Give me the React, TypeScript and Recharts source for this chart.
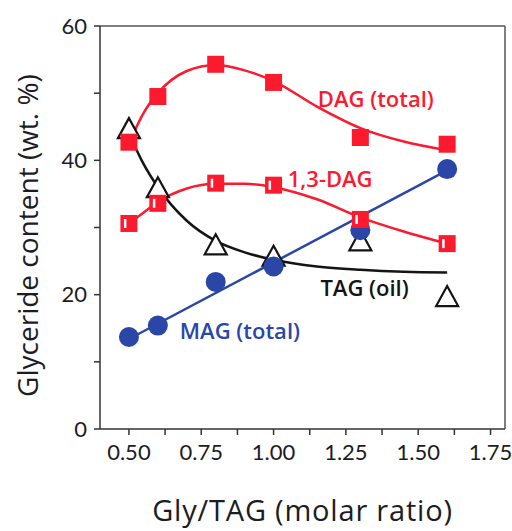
import {
  ComposedChart,
  Line,
  Scatter,
  XAxis,
  YAxis,
  ReferenceLine,
  ReferenceDot,
} from "recharts";

// measured points (Gly/TAG molar ratio)
const ratio = [0.5, 0.6, 0.8, 1.0, 1.3, 1.6];
const dagTotal = [42.7, 49.5, 54.3, 51.6, 43.4, 42.4];
const dag13 = [30.6, 33.6, 36.6, 36.3, 31.2, 27.6];
const tagOil = [44.5, 35.7, 27.2, 25.5, 27.8, 19.5];
const magTotal = [13.7, 15.4, 21.9, 24.2, 29.6, 38.7];

// fitted curves
const fitRatio = [0.5, 0.55, 0.6, 0.7, 0.8, 0.9, 1.0, 1.15, 1.3, 1.45, 1.6];
const dagTotalFit = [42.5, 47.0, 50.0, 53.3, 54.2, 53.4, 51.8, 48.0, 44.8, 42.8, 41.5];
const dag13Fit = [30.6, 32.2, 33.8, 35.8, 36.5, 36.5, 36.0, 34.2, 31.5, 29.4, 27.6];
const tagFit = [44.0, 39.5, 36.0, 31.0, 28.0, 26.3, 25.2, 24.2, 23.7, 23.4, 23.3];
const magFitRatio = [0.5, 1.6];
const magFit = [13.4, 38.5];

const xTicks = [0.5, 0.625, 0.75, 0.875, 1.0, 1.125, 1.25, 1.375, 1.5, 1.625, 1.75];
const xLabels = [0.5, 0.75, 1.0, 1.25, 1.5, 1.75];
const yTicks = [0, 10, 20, 30, 40, 50, 60];
const yLabels = [0, 20, 40, 60];

const RED = "#fb1a2e";
const BLUE = "#2a47a8";
const BLACK = "#141414";
const FONT = "Lato, 'Open Sans', sans-serif";
const TITLE_FONT = "'Open Sans', Lato, sans-serif";

const toRows = (xs: number[], ys: number[]) => xs.map((x, i) => ({ x, y: ys[i] }));

const FilledSquare = (props: any) => {
  const { cx, cy } = props;
  return <rect x={cx - 8.5} y={cy - 8.5} width={17} height={17} fill={RED} />;
};

const MarkedSquare = (props: any) => {
  const { cx, cy } = props;
  return (
    <g>
      <rect x={cx - 8.5} y={cy - 8.5} width={17} height={17} fill={RED} />
      <rect x={cx - 5} y={cy - 4.5} width={2.5} height={9} fill="#fff" />
    </g>
  );
};

const Triangle = (props: any) => {
  const { cx, cy } = props;
  return (
    <polygon
      points={`${cx},${cy - 12} ${cx - 11},${cy + 8} ${cx + 11},${cy + 8}`}
      fill="#fff"
      stroke={BLACK}
      strokeWidth={2.2}
    />
  );
};

const Dot = (props: any) => {
  const { cx, cy } = props;
  return <circle cx={cx} cy={cy} r={10} fill={BLUE} />;
};

const tickStyle = { fontSize: 22, fill: "#1c1c24", fontFamily: FONT };

const seriesLabel = (value: string, fill: string) => ({
  value,
  position: "right" as const,
  offset: 0,
  fill,
  fontSize: 22,
  fontWeight: 600,
  fontFamily: TITLE_FONT,
});

export default function App() {
  return (
    <div style={{ position: "absolute", left: 0, top: 0, background: "#fff" }}>
      <ComposedChart width={512} height={531} margin={{ top: 26, right: 7, bottom: 0, left: 0 }}>
        <XAxis
          dataKey="x"
          type="number"
          domain={[0.4, 1.8]}
          ticks={xTicks}
          allowDataOverflow
          tickFormatter={(v: number) => (xLabels.includes(v) ? v.toFixed(2) : "")}
          tick={tickStyle}
          tickSize={6}
          tickMargin={9}
          stroke="#333"
          strokeWidth={1.5}
          height={102}
          label={{
            content: (p: any) => {
              const vb = p.viewBox;
              return (
                <text
                  x={vb.x + vb.width / 2}
                  y={521}
                  textAnchor="middle"
                  fontSize={29}
                  letterSpacing={0.8}
                  fontFamily={TITLE_FONT}
                  fill="#1c1c24"
                >
                  Gly/TAG (molar ratio)
                </text>
              );
            },
          }}
        />
        <YAxis
          type="number"
          domain={[0, 60]}
          ticks={yTicks}
          allowDataOverflow
          tickFormatter={(v: number) => (yLabels.includes(v) ? String(v) : "")}
          tick={tickStyle}
          tickSize={6}
          tickMargin={7}
          stroke="#333"
          strokeWidth={1.5}
          width={100}
          label={{
            content: (p: any) => {
              const vb = p.viewBox;
              const cx = 27;
              const cy = vb.y + vb.height / 2 + 8;
              return (
                <text
                  x={cx}
                  y={cy}
                  transform={`rotate(-90 ${cx} ${cy})`}
                  textAnchor="middle"
                  dominantBaseline="central"
                  fontSize={28}
                  fontFamily={TITLE_FONT}
                  fill="#1c1c24"
                >
                  Glyceride content (wt. %)
                </text>
              );
            },
          }}
        />
        <ReferenceLine y={60} stroke="#555" strokeWidth={1.5} />
        <ReferenceLine x={1.8} stroke="#555" strokeWidth={1.5} />

        <Line data={toRows(fitRatio, tagFit)} dataKey="y" type="monotone" stroke={BLACK} strokeWidth={2.5} dot={false} isAnimationActive={false} />
        <Scatter data={toRows(ratio, tagOil)} dataKey="y" shape={Triangle} isAnimationActive={false} />

        <Line data={toRows(magFitRatio, magFit)} dataKey="y" type="linear" stroke={BLUE} strokeWidth={2.5} dot={false} isAnimationActive={false} />
        <Scatter data={toRows(ratio, magTotal)} dataKey="y" shape={Dot} isAnimationActive={false} />

        <Line data={toRows(fitRatio, dagTotalFit)} dataKey="y" type="monotone" stroke={RED} strokeWidth={2.5} dot={false} isAnimationActive={false} />
        <Line data={toRows(fitRatio, dag13Fit)} dataKey="y" type="monotone" stroke={RED} strokeWidth={2.5} dot={false} isAnimationActive={false} />
        <Scatter data={toRows(ratio, dagTotal)} dataKey="y" shape={FilledSquare} isAnimationActive={false} />
        <Scatter data={toRows(ratio, dag13)} dataKey="y" shape={MarkedSquare} isAnimationActive={false} />

        <ReferenceDot x={1.153} y={49.1} r={0} stroke="none" fill="none" label={seriesLabel("DAG (total)", RED)} />
        <ReferenceDot x={1.049} y={37.2} r={0} stroke="none" fill="none" label={seriesLabel("1,3-DAG", RED)} />
        <ReferenceDot x={1.162} y={21.0} r={0} stroke="none" fill="none" label={seriesLabel("TAG (oil)", BLACK)} />
        <ReferenceDot x={0.676} y={14.6} r={0} stroke="none" fill="none" label={seriesLabel("MAG (total)", BLUE)} />
      </ComposedChart>
    </div>
  );
}
